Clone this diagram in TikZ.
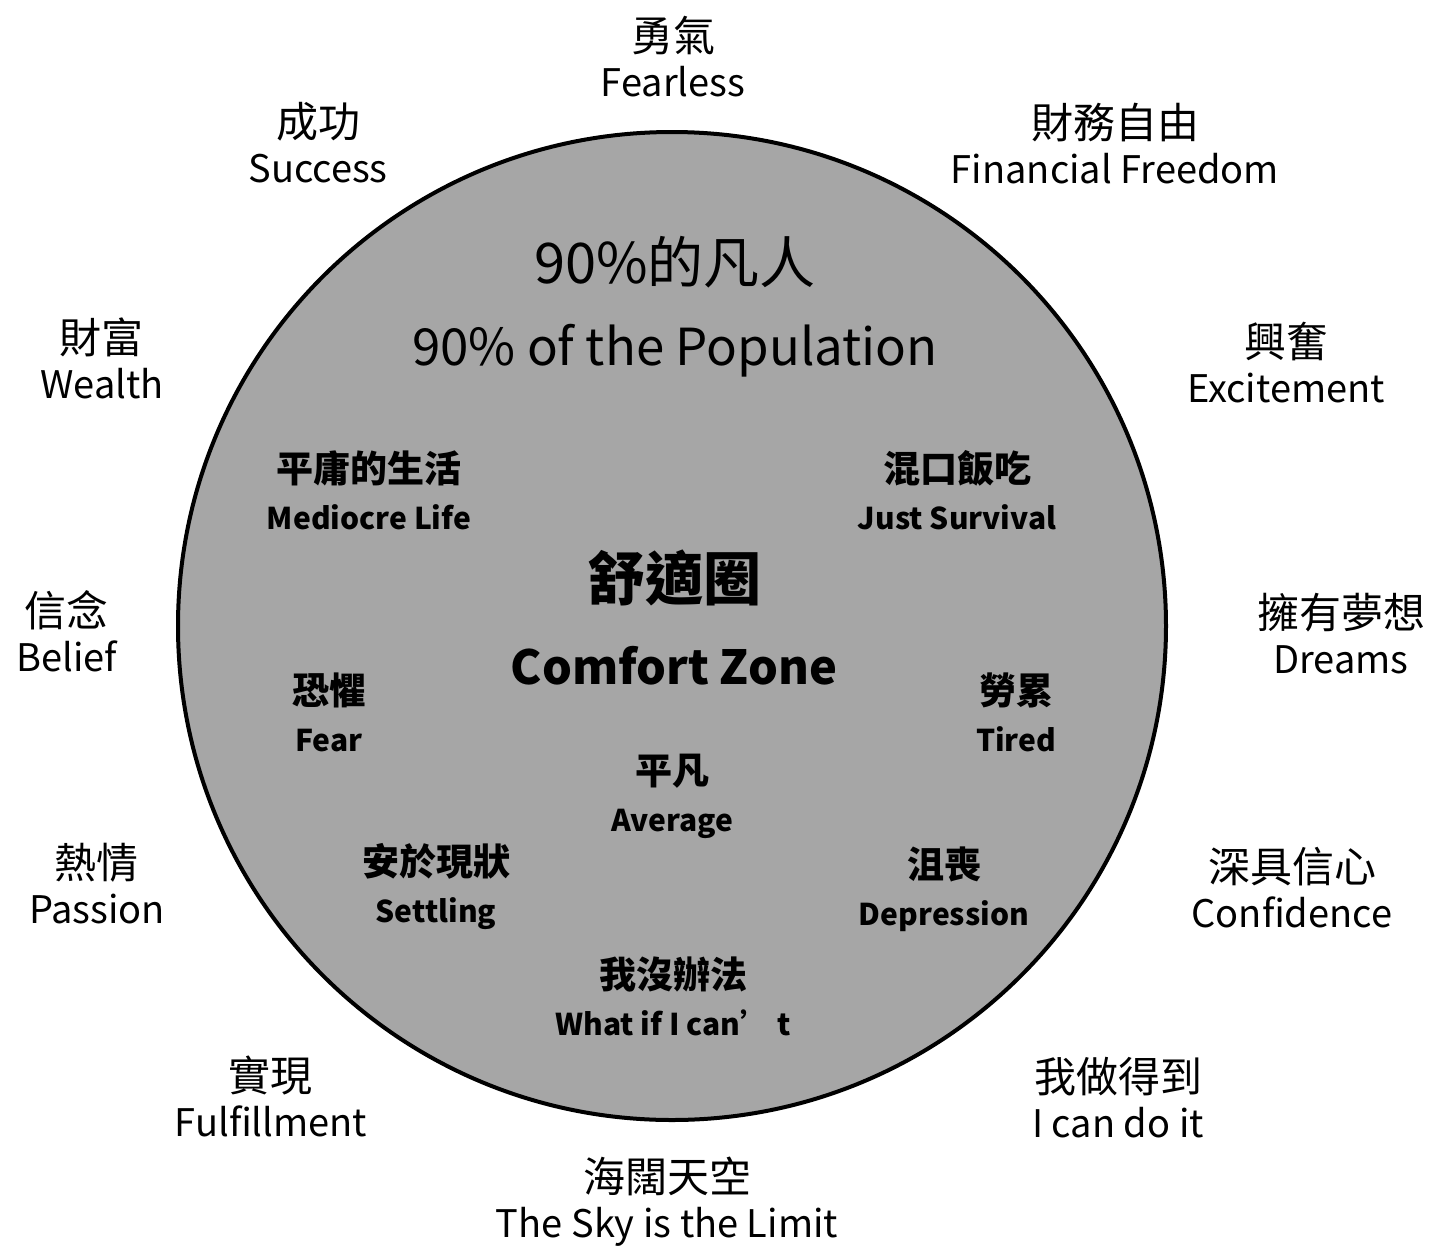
\documentclass[tikz,border=0pt]{standalone}
\usepackage{fontspec}
\setmainfont{Noto Sans CJK TC}
\usepackage{xcolor}
\definecolor{zonegray}{gray}{0.65}
% Chinese line a bit larger than the English line
\newcommand{\outerlab}[2]{{\fontsize{21}{22}\selectfont #1}\\#2}
\newcommand{\innerlab}[2]{{\fontsize{18.5}{23}\selectfont #1}\\{\fontsize{15}{23}\selectfont #2}}

\begin{document}
\begin{tikzpicture}[x=0.5pt,y=-0.5pt]
                \tikzstyle{every node}=[align=center,inner sep=0pt]
                \tikzstyle{outer}=[font=\fontsize{19}{22.5}\selectfont]
                \tikzstyle{inner}=[font=\fontsize{17}{23.5}\selectfont\bfseries]
                \useasboundingbox (0,0) rectangle (1432,1249);

                \node[draw,circle,line width=2pt,fill=zonegray,minimum size=494pt] (zone) at (672,626) {};

                % outside the circle
                \node[outer] (fearless) at (673,57) {\outerlab{勇氣}{Fearless}};
                \node[outer] (success) at (318,143) {\outerlab{成功}{Success}};
                \node[outer] (freedom) at (1115,144) {\outerlab{財務自由}{Financial Freedom}};
                \node[outer] (wealth) at (102,358) {\outerlab{財富}{Wealth}};
                \node[outer] (excite) at (1286,363) {\outerlab{興奮}{Excitement}};
                \node[outer] (belief) at (67,631) {\outerlab{信念}{Belief}};
                \node[outer] (dreams) at (1341,634) {\outerlab{擁有夢想}{Dreams}};
                \node[outer] (passion) at (97,884) {\outerlab{熱情}{Passion}};
                \node[outer] (confid) at (1292,888) {\outerlab{深具信心}{Confidence}};
                \node[outer] (fulfil) at (271,1096) {\outerlab{實現}{Fulfillment}};
                \node[outer] (cando) at (1118,1098) {\outerlab{我做得到}{I can do it}};
                \node[outer] (sky) at (667,1202) {\outerlab{海闊天空}{The Sky is the Limit}};

                % inside the circle
                \node[font=\fontsize{25.5}{41}\selectfont] (people) at (675,307) {{\fontsize{28}{41}\selectfont 90\%的凡人}\\90\% of the Population};
                \node[font=\fontsize{23.5}{42}\selectfont\bfseries] (comfort) at (674,618) {{\fontsize{29}{42}\selectfont 舒適圈}\\Comfort Zone};
                \node[inner] (mediocre) at (369,490) {\innerlab{平庸的生活}{Mediocre Life}};
                \node[inner] (survival) at (957,490) {\innerlab{混口飯吃}{Just Survival}};
                \node[inner] (fear) at (329,712) {\innerlab{恐懼}{Fear}};
                \node[inner] (tired) at (1016,712) {\innerlab{勞累}{Tired}};
                \node[inner] (average) at (672,796) {\innerlab{平凡}{Average}};
                \node[inner] (settling) at (436,887) {\innerlab{安於現狀}{Settling}};
                \node[inner] (depress) at (944,889) {\innerlab{沮喪}{Depression}};
                \node[inner] (cannot) at (673,996) {\innerlab{我沒辦法}{What if I can’ t}};
            \end{tikzpicture}
\end{document}
